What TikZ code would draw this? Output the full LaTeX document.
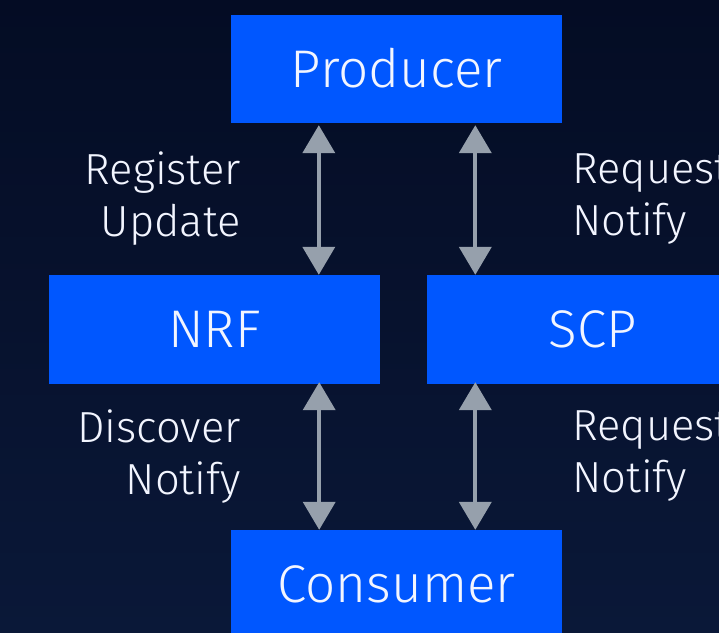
\documentclass[tikz,border=0pt]{standalone}
\usepackage{fontspec}
\setmainfont{Fira Sans}[UprightFont=* Light]
\usetikzlibrary{arrows.meta}
\definecolor{bgtop}{HTML}{040C24}
\definecolor{bgbot}{HTML}{0A1838}
\definecolor{boxblue}{HTML}{0057FF}
\definecolor{arrgray}{HTML}{96A0AC}
\definecolor{txt}{HTML}{F2F5FF}
\tikzset{
  x=1pt, y=-1pt,
  nfbox/.style={fill=boxblue, draw=none, rectangle, minimum width=331pt, minimum height=108pt, inner sep=0pt, text=txt, font=\fontsize{53}{62}\selectfont},
  lbl/.style={text=txt, font=\fontsize{43.5}{52}\selectfont, inner sep=0pt},
  dbl/.style={draw=arrgray, line width=4pt, {Triangle[width=32pt,length=28pt]}-{Triangle[width=32pt,length=28pt]}},
}
\begin{document}
\begin{tikzpicture}
\useasboundingbox (0,0) rectangle (719,632);
\clip (0,0) rectangle (719,632);
\shade[top color=bgtop, bottom color=bgbot] (0,0) rectangle (719,632);
\node[nfbox] (producer) at (396.5,68.5) {Producer};
\node[nfbox, minimum height=109pt] (nrf) at (214.5,329.5) {NRF};
\node[nfbox, minimum height=109pt] (scp) at (592.5,329.5) {SCP};
\node[nfbox] (consumer) at (396.5,584) {Consumer};
\draw[dbl, shorten <=2.5pt] ([xshift=88pt]producer.south west) -- ([xshift=88pt]producer.south west |- nrf.north);
\draw[dbl, shorten <=2.5pt] ([xshift=244.5pt]producer.south west) -- ([xshift=244.5pt]producer.south west |- scp.north);
\draw[dbl, shorten <=-2pt] ([xshift=-61pt]nrf.south east) -- ([xshift=-61pt]nrf.south east |- consumer.north);
\draw[dbl, shorten <=-2pt] ([xshift=48.5pt]scp.south west) -- ([xshift=48.5pt]scp.south west |- consumer.north);
\node[lbl, anchor=east, align=right] (l1) at (241,199) {Register\\Update};
\node[lbl, anchor=west, align=left] (r1) at (572,199) {Request\\Notify};
\node[lbl, anchor=east, align=right] (l2) at (241,456.5) {Discover\\Notify};
\node[lbl, anchor=west, align=left] (r2) at (572,456.5) {Request\\Notify};
\end{tikzpicture}
\end{document}
